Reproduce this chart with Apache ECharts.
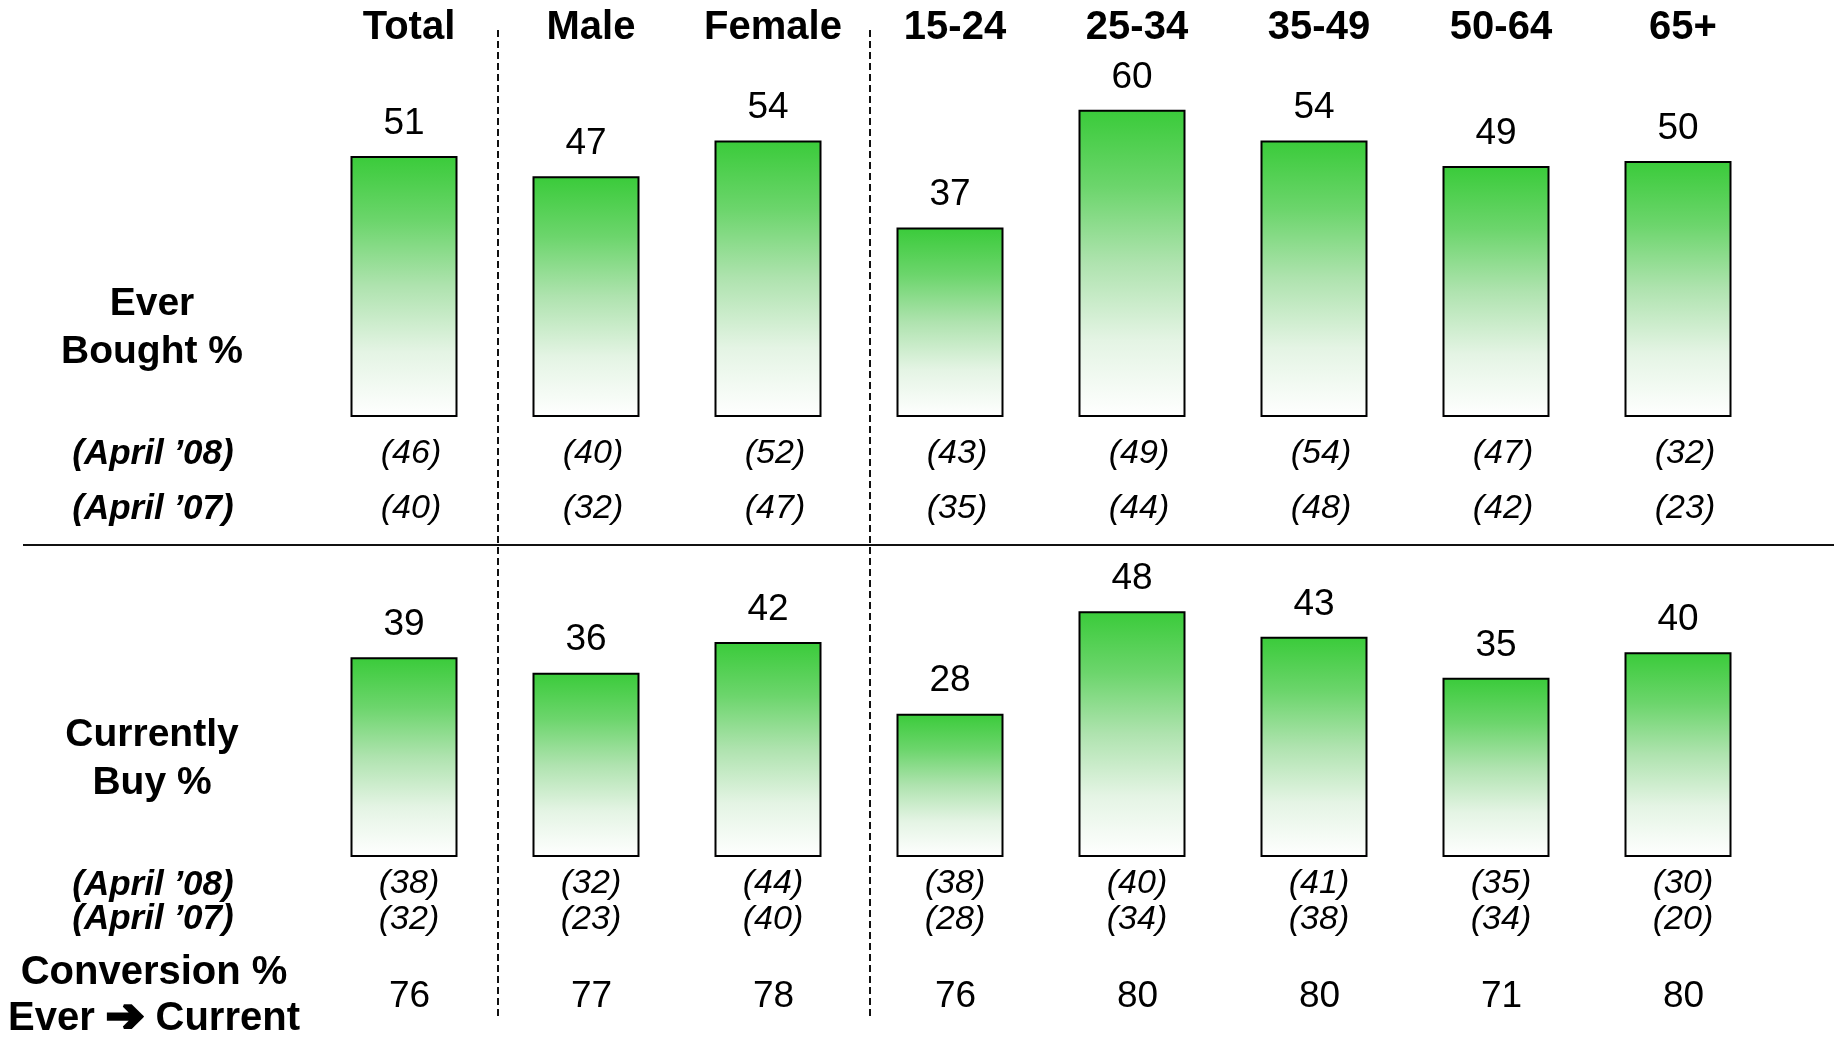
<!DOCTYPE html>
<html>
<head>
<meta charset="utf-8">
<script src="https://cdn.jsdelivr.net/npm/echarts@6/dist/echarts.min.js"></script>
<style>
html,body{margin:0;padding:0;background:#fff;}
#c{width:1841px;height:1037px;}
</style>
</head>
<body>
<div id="c"></div>
<script>
const categories = ['Total','Male','Female','15-24','25-34','35-49','50-64','65+'];
const everBought = [51,47,54,37,60,54,49,50];
const everApr08 = [46,40,52,43,49,54,47,32];
const everApr07 = [40,32,47,35,44,48,42,23];
const currentBuy = [39,36,42,28,48,43,35,40];
const currApr08 = [38,32,44,38,40,41,35,30];
const currApr07 = [32,23,40,28,34,38,34,20];
const conversion = [76,77,78,76,80,80,71,80];

const FONT = '"Liberation Sans", Arial, "DejaVu Sans", sans-serif';
const paren = arr => arr.map(v => '(' + v + ')');

const chart = echarts.init(document.getElementById('c'), null, {renderer:'canvas'});

const barGradient = new echarts.graphic.LinearGradient(0, 0, 0, 1, [
  {offset: 0, color: '#3acb3a'},
  {offset: 0.25, color: '#6cd56c'},
  {offset: 0.5, color: '#afe3af'},
  {offset: 0.75, color: '#e4f4e4'},
  {offset: 1, color: '#ffffff'}
]);

function labelAxis(gridIndex, data, margin, style) {
  return {
    type: 'category', gridIndex: gridIndex, position: 'bottom', data: data,
    axisLine: {show: false}, axisTick: {show: false}, splitLine: {show: false},
    axisLabel: Object.assign({interval: 0, margin: margin, color: '#000', fontFamily: FONT}, style)
  };
}

const italicStyle = {fontSize: 34, fontStyle: 'italic', padding: [0, 0, 0, 14]};

const option = {
  backgroundColor: '#fff',
  animation: false,
  grid: [
    {left: 313, width: 1456, top: 109.8, height: 307.2},
    {left: 313, width: 1456, top: 549.8, height: 307.2}
  ],
  xAxis: [
    {
      type: 'category', gridIndex: 0, position: 'top', data: categories,
      axisLine: {show: false}, axisTick: {show: false}, splitLine: {show: false},
      axisLabel: {interval: 0, margin: 62, color: '#000', fontFamily: FONT, fontWeight: 'bold', fontSize: 40, padding: [0, 0, 0, 10]}
    },
    labelAxis(0, paren(everApr08), 20, italicStyle),
    labelAxis(0, paren(everApr07), 75, italicStyle),
    {
      type: 'category', gridIndex: 1, position: 'bottom', data: categories,
      axisLine: {show: false}, axisTick: {show: false}, splitLine: {show: false},
      axisLabel: {show: false}
    },
    labelAxis(1, paren(currApr08), 10, Object.assign({}, italicStyle, {padding: [0, 0, 0, 10]})),
    labelAxis(1, paren(currApr07), 46, Object.assign({}, italicStyle, {padding: [0, 0, 0, 10]})),
    labelAxis(1, conversion.map(String), 121, {fontSize: 37, padding: [0, 0, 0, 11]})
  ],
  yAxis: [
    {type: 'value', gridIndex: 0, min: 0, max: 60, show: false},
    {type: 'value', gridIndex: 1, min: 0, max: 60, show: false}
  ],
  series: [
    {
      name: 'Ever Bought %', type: 'bar', xAxisIndex: 0, yAxisIndex: 0,
      data: everBought, barWidth: 107,
      itemStyle: {color: barGradient, borderColor: '#000', borderWidth: 2},
      label: {show: true, position: 'top', distance: 14, color: '#000', fontSize: 37, fontFamily: FONT}
    },
    {
      name: 'Currently Buy %', type: 'bar', xAxisIndex: 3, yAxisIndex: 1,
      data: currentBuy, barWidth: 107,
      itemStyle: {color: barGradient, borderColor: '#000', borderWidth: 2},
      label: {show: true, position: 'top', distance: 14, color: '#000', fontSize: 37, fontFamily: FONT}
    }
  ],
  graphic: [
    {type: 'line', shape: {x1: 23, y1: 545, x2: 1834, y2: 545}, style: {stroke: '#111', lineWidth: 2}},
    {type: 'line', shape: {x1: 498, y1: 30, x2: 498, y2: 1017}, style: {stroke: '#111', lineWidth: 2, lineDash: [7, 4]}},
    {type: 'line', shape: {x1: 870, y1: 30, x2: 870, y2: 1017}, style: {stroke: '#111', lineWidth: 2, lineDash: [7, 4]}},
    {type: 'text', x: 152, y: 304, style: {text: 'Ever', font: 'bold 39px ' + FONT, fill: '#000', textAlign: 'center', textVerticalAlign: 'middle'}},
    {type: 'text', x: 152, y: 352, style: {text: 'Bought %', font: 'bold 39px ' + FONT, fill: '#000', textAlign: 'center', textVerticalAlign: 'middle'}},
    {type: 'text', x: 153, y: 454, style: {text: '(April \u201908)', font: 'italic bold 35px ' + FONT, fill: '#000', textAlign: 'center', textVerticalAlign: 'middle'}},
    {type: 'text', x: 153, y: 509, style: {text: '(April \u201907)', font: 'italic bold 35px ' + FONT, fill: '#000', textAlign: 'center', textVerticalAlign: 'middle'}},
    {type: 'text', x: 152, y: 735, style: {text: 'Currently', font: 'bold 39px ' + FONT, fill: '#000', textAlign: 'center', textVerticalAlign: 'middle'}},
    {type: 'text', x: 152, y: 783, style: {text: 'Buy %', font: 'bold 39px ' + FONT, fill: '#000', textAlign: 'center', textVerticalAlign: 'middle'}},
    {type: 'text', x: 153, y: 885, style: {text: '(April \u201908)', font: 'italic bold 35px ' + FONT, fill: '#000', textAlign: 'center', textVerticalAlign: 'middle'}},
    {type: 'text', x: 153, y: 919, style: {text: '(April \u201907)', font: 'italic bold 35px ' + FONT, fill: '#000', textAlign: 'center', textVerticalAlign: 'middle'}},
    {type: 'text', x: 154, y: 973, style: {text: 'Conversion %', font: 'bold 40px ' + FONT, fill: '#000', textAlign: 'center', textVerticalAlign: 'middle'}},
    {type: 'text', x: 154, y: 1019, style: {
      text: 'Ever {a|\u2794} Current', font: 'bold 40px ' + FONT, fill: '#000', textAlign: 'center', textVerticalAlign: 'middle',
      rich: {a: {fontSize: 46, fontFamily: '"DejaVu Sans"', fontWeight: 'bold', fill: '#000', stroke: '#000', lineWidth: 3}}
    }}
  ]
};
chart.setOption(option);
</script>
</body>
</html>
